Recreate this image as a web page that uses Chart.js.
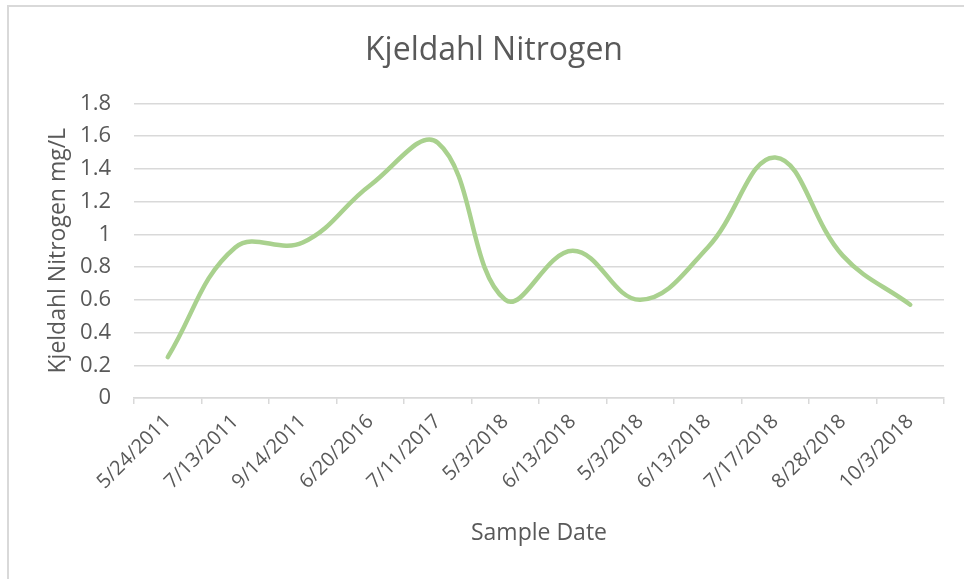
<!DOCTYPE html>
<html>
<head>
<meta charset="utf-8">
<script src="https://cdn.jsdelivr.net/npm/chart.js"></script>
<style>
  body {
    margin: 0;
    background: #fff;
    overflow: hidden;
  }

  .frame {
    position: absolute;
    left: 7px;
    top: 5px;
    width: 1000px;
    height: 600px;
    border-top: 2px solid #d9d9d9;
    border-left: 2px solid #d9d9d9;
  }

  #nitrogenChart {
    position: absolute;
    left: 0;
    top: 0;
  }
</style>
</head>
<body>

<div class="frame"></div>
<canvas id="nitrogenChart" width="964" height="579"></canvas>

<script>
// ==========================
// DATA
// ==========================
const sampleDates = [
  "5/24/2011", "7/13/2011", "9/14/2011", "6/20/2016", "7/11/2017", "5/3/2018",
  "6/13/2018", "5/3/2018", "6/13/2018", "7/17/2018", "8/28/2018", "10/3/2018"
];
const kjeldahlValues = [0.25, 0.92, 0.95, 1.3, 1.56, 0.6, 0.9, 0.6, 0.92, 1.47, 0.87, 0.57];
const yTicks = [0, 0.2, 0.4, 0.6, 0.8, 1, 1.2, 1.4, 1.6, 1.8];

const textGray = "#595959";
const gridGray = "#d9d9d9";
const fontFamily = "'Open Sans', sans-serif";

// ==========================
// CHART
// ==========================
new Chart(document.getElementById("nitrogenChart"), {
  type: "line",
  data: {
    labels: sampleDates,
    datasets: [{
      data: kjeldahlValues,
      borderColor: "#a9d18e",
      borderWidth: 4.5,
      borderCapStyle: "round",
      borderJoinStyle: "round",
      pointRadius: 0,
      tension: 0.4,
      fill: false
    }]
  },
  options: {
    responsive: false,
    animation: false,
    layout: {
      padding: { left: 44, right: 20, top: 0, bottom: 0 }
    },
    plugins: {
      legend: { display: false },
      tooltip: { enabled: false },
      title: {
        display: true,
        text: "Kjeldahl Nitrogen",
        color: textGray,
        font: { family: fontFamily, size: 32, weight: "normal" },
        padding: { top: 32, bottom: 33 }
      }
    },
    scales: {
      x: {
        offset: true,
        grid: {
          offset: true,
          drawOnChartArea: false,
          drawTicks: true,
          tickLength: 6,
          color: gridGray,
          lineWidth: 1.5
        },
        border: { display: true, color: gridGray, width: 1.5 },
        ticks: {
          color: textGray,
          font: { family: fontFamily, size: 20 },
          minRotation: 45,
          maxRotation: 45,
          autoSkip: false,
          padding: 6
        },
        title: {
          display: true,
          text: "Sample Date",
          color: textGray,
          font: { family: fontFamily, size: 23 },
          padding: { top: 0, bottom: 32 }
        },
        afterFit: (scale) => { scale.height = 181; }
      },
      y: {
        min: 0,
        max: 1.8,
        afterBuildTicks: (scale) => {
          scale.ticks = yTicks.map((v) => ({ value: v }));
        },
        grid: {
          color: gridGray,
          lineWidth: 1.5,
          drawTicks: false
        },
        border: { display: false },
        ticks: {
          color: textGray,
          font: { family: fontFamily, size: 22 },
          padding: 23,
          callback: (value) => String(Math.round(value * 10) / 10)
        },
        title: {
          display: true,
          text: "Kjeldahl Nitrogen mg/L",
          color: textGray,
          font: { family: fontFamily, size: 23 },
          padding: { top: 1, bottom: 0 }
        },
        afterFit: (scale) => { scale.width = 90; }
      }
    }
  }
});
</script>

</body>
</html>
